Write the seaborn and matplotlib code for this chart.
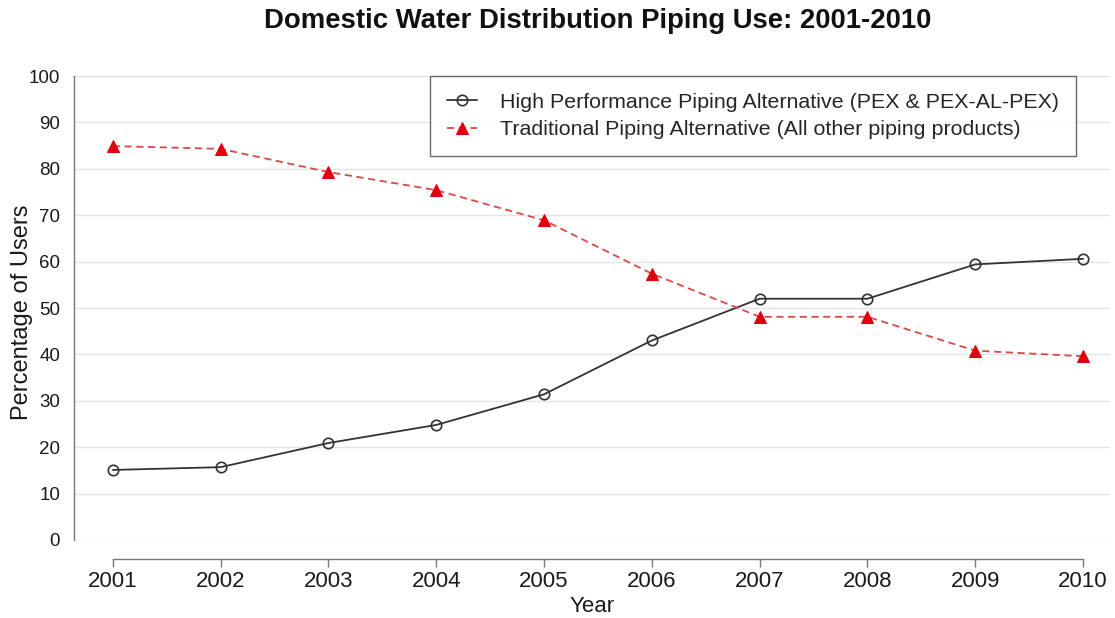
import matplotlib
matplotlib.use("Agg")
import matplotlib.pyplot as plt
import seaborn as sns
import pandas as pd

years = [2001, 2002, 2003, 2004, 2005, 2006, 2007, 2008, 2009, 2010]
high_performance = [15.1, 15.7, 20.9, 24.8, 31.4, 43.0, 52.0, 52.0, 59.4, 60.6]
traditional = [84.9, 84.3, 79.3, 75.4, 68.9, 57.4, 48.1, 48.1, 40.8, 39.6]
series_names = [
    "High Performance Piping Alternative (PEX & PEX-AL-PEX)",
    "Traditional Piping Alternative (All other piping products)",
]
y_ticks = [0, 10, 20, 30, 40, 50, 60, 70, 80, 90, 100]

df = pd.DataFrame({
    "Year": years * 2,
    "Percentage": high_performance + traditional,
    "Series": [series_names[0]] * len(years) + [series_names[1]] * len(years),
})

sns.set_theme(style="white")
plt.rcParams["font.family"] = ["Liberation Sans", "DejaVu Sans"]

fig = plt.figure(figsize=(11.15, 6.18), dpi=100)
ax = fig.add_axes([74 / 1115, 78 / 618, (1110 - 74) / 1115, (540 - 76) / 618])

sns.lineplot(
    data=df[df["Series"] == series_names[0]], x="Year", y="Percentage",
    ax=ax, color="#333333", linewidth=1.3, marker="o", markersize=7.5,
    markerfacecolor="none", markeredgecolor="#333333", markeredgewidth=1.2,
    label=series_names[0],
)
sns.lineplot(
    data=df[df["Series"] == series_names[1]], x="Year", y="Percentage",
    ax=ax, color="#d84a4a", linewidth=1.3, linestyle=(0, (4, 2.5)),
    marker="^", markersize=9, markerfacecolor="#e00010",
    markeredgecolor="#e00010", label=series_names[1],
)

ax.set_xlim(2000.64, 2010.25)
ax.set_ylim(0, 100)
ax.tick_params(axis="y", length=0, pad=10, labelsize=13.5, labelcolor="#1a1a1a")
ax.tick_params(axis="x", length=6, width=1, color="#777777", pad=2,
               bottom=True, labelsize=16, labelcolor="#1a1a1a")
ax.set_xticks(years)
ax.set_xticklabels([str(y) for y in years])
ax.set_yticks(y_ticks)
ax.set_yticklabels([str(t) for t in y_ticks])
ax.yaxis.grid(True, color="#e4e4e4", linewidth=1.0)
ax.xaxis.grid(False)

for side in ("top", "right"):
    ax.spines[side].set_visible(False)
ax.spines["left"].set_color("#777777")
ax.spines["left"].set_linewidth(1.0)
ax.spines["bottom"].set_color("#777777")
ax.spines["bottom"].set_linewidth(1.0)
ax.spines["bottom"].set_position(("outward", 14))
ax.spines["bottom"].set_bounds(years[0], years[-1])

ax.set_xlabel("Year", fontsize=16, color="#1a1a1a", labelpad=3)
ax.set_ylabel("Percentage of Users", fontsize=17, color="#1a1a1a")
ax.yaxis.set_label_coords(-0.0395, 0.49)

fig.suptitle("Domestic Water Distribution Piping Use: 2001-2010",
             fontsize=19.8, fontweight="bold", x=0.536, y=0.987, color="#111111")

leg = ax.legend(
    loc="upper left", bbox_to_anchor=((430 - 74) / (1110 - 74), 1.0),
    fontsize=15.4, frameon=True, fancybox=False, borderpad=0.78,
    borderaxespad=0.0, handlelength=1.4, handletextpad=1.1, labelspacing=0.4,
)
leg.get_frame().set_edgecolor("#444444")
leg.get_frame().set_linewidth(1.0)

fig.savefig("out.png", dpi=100)
